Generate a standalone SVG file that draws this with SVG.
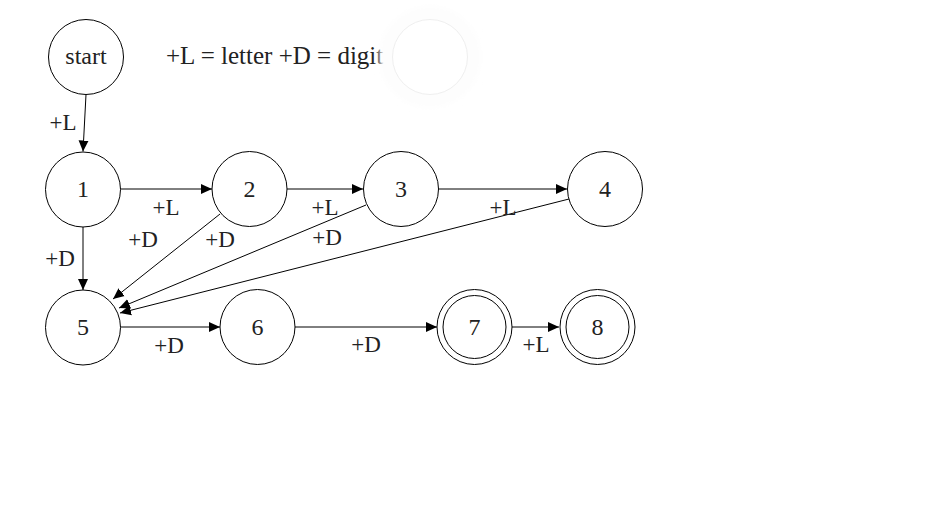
<svg xmlns="http://www.w3.org/2000/svg" width="950" height="520" viewBox="0 0 950 520">
<style>
.n{fill:#fff;stroke:#000;stroke-width:1}
.t{font-family:"Liberation Serif","Times New Roman",serif;font-size:23px;fill:#222;text-anchor:middle}
.nt{font-size:24px}
.e{stroke:#000;stroke-width:1;fill:none;marker-end:url(#ah)}
</style>
<defs>
<marker id="ah" markerWidth="11" markerHeight="11" refX="11" refY="5.5" orient="auto" markerUnits="userSpaceOnUse"><path d="M0,0.5 L11,5.5 L0,10.5 Z" fill="#000"/></marker>
<filter id="glow" x="-50%" y="-50%" width="200%" height="200%"><feGaussianBlur stdDeviation="3"/></filter>
</defs>
<rect width="950" height="520" fill="#fff"/>
<text class="t" x="166" y="64" style="text-anchor:start;font-size:25px">+L = letter +D = digit</text>
<g id="ghost">
<circle cx="430" cy="57" r="51" fill="#fdfdfd" fill-opacity="0.9" filter="url(#glow)"/>
<circle cx="430" cy="57" r="37.5" fill="#fff" stroke="#efefef" stroke-width="1"/>
</g>
<g id="connectors">
<line class="e" x1="86" y1="94.5" x2="83" y2="151.5"/>
<line class="e" x1="120" y1="189" x2="212" y2="189"/>
<line class="e" x1="287" y1="189" x2="363" y2="189"/>
<line class="e" x1="439" y1="189" x2="567" y2="189"/>
<line class="e" x1="83" y1="227" x2="83" y2="290"/>
<line class="e" x1="220" y1="214" x2="113" y2="299"/>
<line class="e" x1="366" y1="205" x2="119" y2="308"/>
<line class="e" x1="569" y1="199" x2="120" y2="313"/>
<line class="e" x1="120" y1="327" x2="220" y2="327"/>
<line class="e" x1="295" y1="327" x2="437" y2="327"/>
<line class="e" x1="512" y1="327" x2="559" y2="327"/>
</g>
<g id="labels">
<text class="t" x="63" y="130">+L</text>
<text class="t" x="166" y="215">+L</text>
<text class="t" x="143" y="247">+D</text>
<text class="t" x="220" y="247">+D</text>
<text class="t" x="325" y="215">+L</text>
<text class="t" x="327" y="245">+D</text>
<text class="t" x="503" y="215">+L</text>
<text class="t" x="60" y="266">+D</text>
<text class="t" x="169" y="353">+D</text>
<text class="t" x="366" y="352">+D</text>
<text class="t" x="536" y="352">+L</text>
</g>
<g id="node-start"><circle class="n" cx="86" cy="57" r="37.5"/><text class="t nt" x="86" y="64">start</text></g>
<g id="node-1"><circle class="n" cx="83" cy="189.5" r="37.5"/><text class="t nt" x="83" y="197">1</text></g>
<g id="node-2"><circle class="n" cx="249.5" cy="189" r="37.5"/><text class="t nt" x="249.5" y="196.5">2</text></g>
<g id="node-3"><circle class="n" cx="401" cy="189" r="37.5"/><text class="t nt" x="401" y="196.5">3</text></g>
<g id="node-4"><circle class="n" cx="605" cy="189" r="37.5"/><text class="t nt" x="605" y="196.5">4</text></g>
<g id="node-5"><circle class="n" cx="83" cy="327.5" r="37.5"/><text class="t nt" x="83" y="335">5</text></g>
<g id="node-6"><circle class="n" cx="257.5" cy="327" r="37.5"/><text class="t nt" x="257.5" y="334.5">6</text></g>
<g id="node-7"><circle class="n" cx="474.5" cy="327" r="37.5"/><circle class="n" cx="474.5" cy="327" r="31.5"/><text class="t nt" x="474.5" y="334.5">7</text></g>
<g id="node-8"><circle class="n" cx="597.5" cy="327" r="37.5"/><circle class="n" cx="597.5" cy="327" r="31.5"/><text class="t nt" x="597.5" y="334.5">8</text></g>
</svg>
